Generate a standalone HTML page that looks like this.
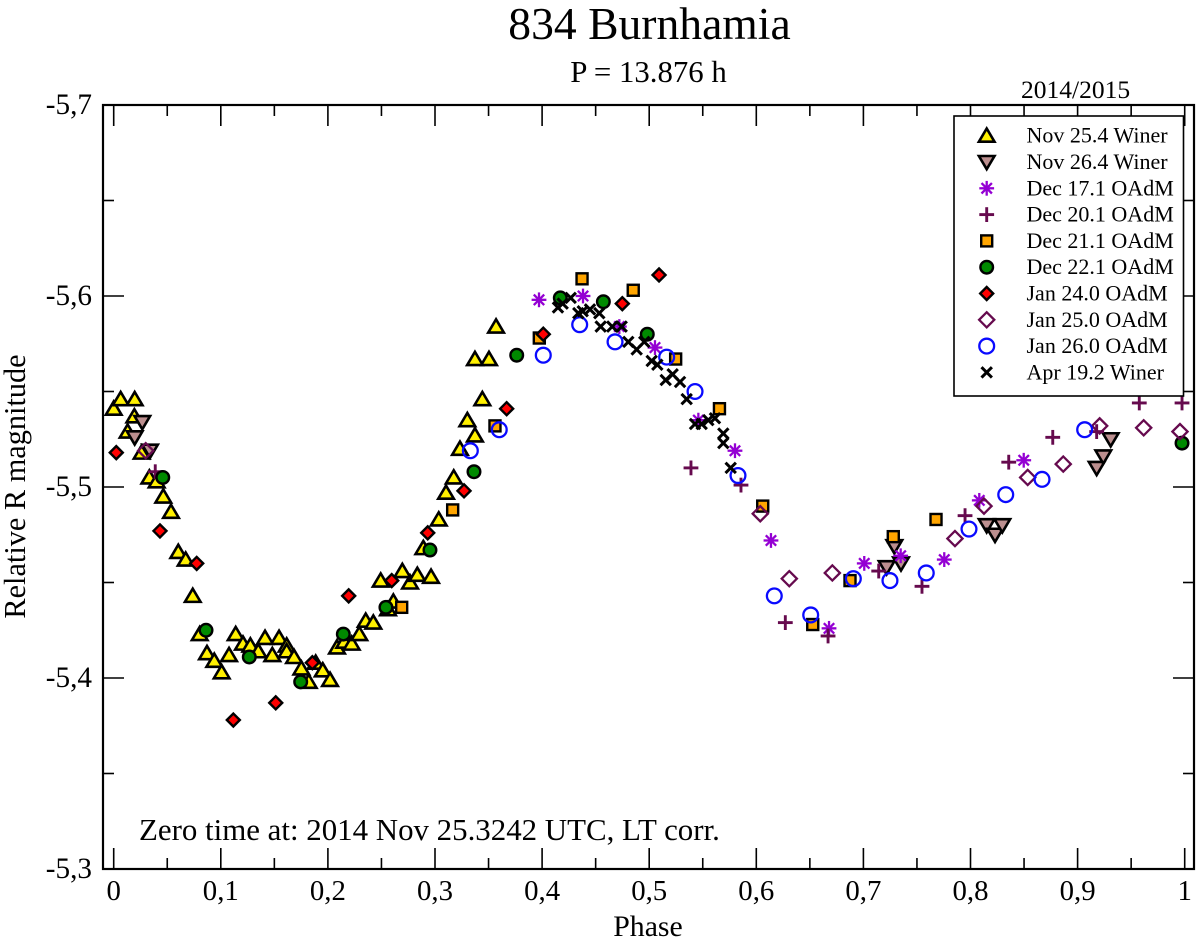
<!DOCTYPE html>
<html lang="en">
<head>
<meta charset="utf-8">
<title>834 Burnhamia</title>
<style>
html,body{margin:0;padding:0;background:#fff;}
svg{display:block;font-family:"Liberation Serif",serif;fill:#000;}
</style>
</head>
<body>
<svg id="chart" xmlns="http://www.w3.org/2000/svg" width="1200" height="945" viewBox="0 0 1200 945">
  <rect x="0" y="0" width="1200" height="945" fill="#fff"/>
  <text x="649.5" y="39" font-size="45.6" text-anchor="middle">834 Burnhamia</text>
  <text x="648.5" y="82" font-size="30.8" text-anchor="middle">P = 13.876 h</text>
  <text x="1021" y="98" font-size="25.5">2014/2015</text>
  <g id="ticks"></g>
  <rect x="103" y="105" width="1091" height="764" fill="none" stroke="#000" stroke-width="2.2"/>
  <g id="marks"></g>
  <g id="tick-labels"></g>
  <text x="648" y="936" font-size="29.8" text-anchor="middle">Phase</text>
  <text transform="translate(25,486.5) rotate(-90)" font-size="30.3" text-anchor="middle">Relative R magnitude</text>
  <text x="139" y="840" font-size="30.9">Zero time at: 2014 Nov 25.3242 UTC, LT corr.</text>
  <g id="legend">
    <rect x="954" y="116" width="229.5" height="280" fill="#fff" stroke="#000" stroke-width="1.6"/>
  </g>
</svg>
<script>
const xTicks = [0, 0.1, 0.2, 0.3, 0.4, 0.5, 0.6, 0.7, 0.8, 0.9, 1];
const xTickLabels = ["0", "0,1", "0,2", "0,3", "0,4", "0,5", "0,6", "0,7", "0,8", "0,9", "1"];
const xMinorTicks = [0.05, 0.15, 0.25, 0.35, 0.45, 0.55, 0.65, 0.75, 0.85, 0.95];
const yTicks = [-5.7, -5.6, -5.5, -5.4, -5.3];
const yTickLabels = ["-5,7", "-5,6", "-5,5", "-5,4", "-5,3"];
const yMinorTicks = [-5.65, -5.55, -5.45, -5.35];

const seriesLabels = ["Nov 25.4 Winer", "Nov 26.4 Winer", "Dec 17.1 OAdM", "Dec 20.1 OAdM", "Dec 21.1 OAdM", "Dec 22.1 OAdM", "Jan 24.0 OAdM", "Jan 25.0 OAdM", "Jan 26.0 OAdM", "Apr 19.2 Winer"];

const nov25 = [[0.000,-5.541],[0.0065,-5.546],[0.0196,-5.546],[0.0193,-5.537],[0.013,-5.529],[0.0261,-5.518],[0.0333,-5.505],[0.0401,-5.503],[0.0463,-5.495],[0.0535,-5.487],[0.0603,-5.466],[0.0672,-5.462],[0.0738,-5.443],[0.0803,-5.423],[0.0871,-5.413],[0.0939,-5.409],[0.1008,-5.403],[0.1077,-5.412],[0.1139,-5.423],[0.1207,-5.418],[0.1276,-5.417],[0.135,-5.414],[0.1413,-5.421],[0.1481,-5.412],[0.1544,-5.421],[0.1615,-5.417],[0.1615,-5.414],[0.1684,-5.411],[0.1752,-5.405],[0.1821,-5.398],[0.1886,-5.408],[0.1952,-5.404],[0.202,-5.399],[0.2085,-5.416],[0.2153,-5.419],[0.2222,-5.418],[0.2293,-5.423],[0.2353,-5.43],[0.2424,-5.429],[0.2493,-5.451],[0.2561,-5.436],[0.2611,-5.44],[0.2695,-5.456],[0.2767,-5.45],[0.2835,-5.454],[0.2891,-5.468],[0.2963,-5.453],[0.3035,-5.483],[0.3103,-5.497],[0.3175,-5.505],[0.3233,-5.52],[0.3302,-5.535],[0.3373,-5.527],[0.3373,-5.567],[0.3442,-5.546],[0.3504,-5.567],[0.357,-5.584]];
const nov26 = [[0.0196,-5.526],[0.0267,-5.534],[0.0339,-5.519],[0.7217,-5.458],[0.7289,-5.469],[0.7351,-5.46],[0.8151,-5.48],[0.8229,-5.475],[0.8297,-5.48],[0.9178,-5.51],[0.924,-5.516],[0.9309,-5.525]];
const dec17 = [[0.3971,-5.598],[0.4382,-5.6],[0.4721,-5.584],[0.5054,-5.573],[0.5459,-5.535],[0.5801,-5.519],[0.6137,-5.472],[0.6679,-5.426],[0.7008,-5.46],[0.7348,-5.464],[0.7755,-5.462],[0.8082,-5.493],[0.8497,-5.514]];
const dec20 = [[0.0388,-5.508],[0.539,-5.51],[0.5857,-5.501],[0.6271,-5.429],[0.667,-5.422],[0.7143,-5.456],[0.7547,-5.448],[0.7949,-5.485],[0.8357,-5.513],[0.8768,-5.526],[0.9178,-5.529],[0.9576,-5.544],[0.9975,-5.544]];
const dec21 = [[0.2689,-5.437],[0.3165,-5.488],[0.356,-5.532],[0.3974,-5.578],[0.4373,-5.609],[0.4851,-5.603],[0.5247,-5.567],[0.5656,-5.541],[0.606,-5.49],[0.6527,-5.428],[0.6875,-5.451],[0.7279,-5.474],[0.7678,-5.483]];
const dec22 = [[0.0458,-5.505],[0.0862,-5.425],[0.1266,-5.411],[0.1746,-5.398],[0.2144,-5.423],[0.2542,-5.437],[0.2953,-5.467],[0.3364,-5.508],[0.3763,-5.569],[0.417,-5.599],[0.4572,-5.597],[0.4982,-5.58],[0.9975,-5.523]];
const jan24 = [[0.0024,-5.518],[0.0432,-5.477],[0.0775,-5.46],[0.1117,-5.378],[0.1513,-5.387],[0.1855,-5.408],[0.2194,-5.443],[0.2596,-5.451],[0.2932,-5.476],[0.3271,-5.498],[0.3669,-5.541],[0.4011,-5.58],[0.4749,-5.596],[0.5092,-5.611]];
const jan25 = [[0.0299,-5.519],[0.6037,-5.486],[0.6308,-5.452],[0.671,-5.455],[0.7855,-5.473],[0.8126,-5.49],[0.8534,-5.505],[0.8866,-5.512],[0.9206,-5.532],[0.9617,-5.531],[0.9956,-5.529]];
const jan26 = [[0.333,-5.519],[0.36,-5.53],[0.4011,-5.569],[0.4351,-5.585],[0.4681,-5.576],[0.5163,-5.568],[0.5428,-5.55],[0.5829,-5.506],[0.6168,-5.443],[0.6508,-5.433],[0.6906,-5.452],[0.7248,-5.451],[0.7587,-5.455],[0.7986,-5.478],[0.8329,-5.496],[0.8668,-5.504],[0.9066,-5.53]];
const apr19 = [[0.4148,-5.594],[0.4192,-5.596],[0.4267,-5.599],[0.4338,-5.591],[0.4379,-5.592],[0.4447,-5.593],[0.4534,-5.591],[0.4547,-5.584],[0.4655,-5.584],[0.4743,-5.584],[0.4805,-5.576],[0.4883,-5.572],[0.4954,-5.576],[0.5023,-5.566],[0.5076,-5.564],[0.5154,-5.556],[0.5219,-5.559],[0.5288,-5.555],[0.535,-5.546],[0.5428,-5.533],[0.549,-5.533],[0.5552,-5.535],[0.5614,-5.536],[0.5692,-5.528],[0.5692,-5.523],[0.5761,-5.51]];

const allSeries = [nov25, nov26, dec17, dec20, dec21, dec22, jan24, jan25, jan26, apr19];
const markerKinds = ["up", "down", "star", "plus", "square", "circle", "diamond", "openDiamond", "openCircle", "cross"];

const SVGNS = "http://www.w3.org/2000/svg";
function xScale(phase) { return 113.7 + 1071 * phase; }
function yScale(mag) { return 869 + (mag + 5.3) * 1910; }

function shape(tag, attrs) {
  const el = document.createElementNS(SVGNS, tag);
  for (const k in attrs) el.setAttribute(k, attrs[k]);
  return el;
}
function segment(parent, x1, y1, x2, y2, width, color) {
  const el = shape("line", {x1: x1, y1: y1, x2: x2, y2: y2, stroke: color, "stroke-width": width});
  parent.appendChild(el);
  return el;
}
function pts(list) { return list.map(function (p) { return p[0].toFixed(2) + "," + p[1].toFixed(2); }).join(" "); }

function drawMarker(parent, kind, x, y) {
  const g = shape("g", {});
  const ink = "#000";
  if (kind === "up") {
    g.appendChild(shape("polygon", {points: pts([[x - 7.8, y + 6], [x + 7.8, y + 6], [x, y - 7.2]]), fill: "#fff000", stroke: ink, "stroke-width": 2.6}));
  } else if (kind === "down") {
    g.appendChild(shape("polygon", {points: pts([[x - 7.8, y - 6], [x + 7.8, y - 6], [x, y + 7.2]]), fill: "#bc8f8f", stroke: ink, "stroke-width": 2.6}));
  } else if (kind === "star") {
    const c = "#9400d3", r = 7.4, d = 5.2;
    segment(g, x - r, y, x + r, y, 2.3, c);
    segment(g, x, y - r, x, y + r, 2.3, c);
    segment(g, x - d, y - d, x + d, y + d, 2.3, c);
    segment(g, x - d, y + d, x + d, y - d, 2.3, c);
  } else if (kind === "plus") {
    const c = "#660a4e", r = 7.4;
    segment(g, x - r, y, x + r, y, 2.9, c);
    segment(g, x, y - r, x, y + r, 2.9, c);
  } else if (kind === "square") {
    g.appendChild(shape("rect", {x: x - 5.5, y: y - 5.5, width: 11, height: 11, fill: "#ffa500", stroke: ink, "stroke-width": 2.4}));
  } else if (kind === "circle") {
    g.appendChild(shape("circle", {cx: x, cy: y, r: 6.3, fill: "#008a00", stroke: ink, "stroke-width": 2.4}));
  } else if (kind === "diamond") {
    g.appendChild(shape("polygon", {points: pts([[x - 6.5, y], [x, y - 6.5], [x + 6.5, y], [x, y + 6.5]]), fill: "#ff0000", stroke: ink, "stroke-width": 2.4}));
  } else if (kind === "openDiamond") {
    g.appendChild(shape("polygon", {points: pts([[x - 7.6, y], [x, y - 7.6], [x + 7.6, y], [x, y + 7.6]]), fill: "#fff", "fill-opacity": 0, stroke: "#660a4e", "stroke-width": 2.3}));
  } else if (kind === "openCircle") {
    g.appendChild(shape("circle", {cx: x, cy: y, r: 7.4, fill: "none", stroke: "#0a0aff", "stroke-width": 2.3}));
  } else if (kind === "cross") {
    const r = 5.2;
    segment(g, x - r, y - r, x + r, y + r, 3, ink);
    segment(g, x - r, y + r, x + r, y - r, 3, ink);
  }
  parent.appendChild(g);
  return g;
}

const ticksG = document.getElementById("ticks");
const labelsG = document.getElementById("tick-labels");

xTicks.forEach(function (v, i) {
  const px = xScale(v);
  const bottom = segment(ticksG, px, 869, px, 848, 1.6, "#000");
  
  
  const top = segment(ticksG, px, 105, px, 126, 1.6, "#000");
  
  
  const t = shape("text", {x: px, y: 900, "font-size": 28.8, "text-anchor": "middle"});
  t.textContent = xTickLabels[i];
  
  
  labelsG.appendChild(t);
});
xMinorTicks.forEach(function (v) {
  const px = xScale(v);
  const bottom = segment(ticksG, px, 869, px, 858, 1.6, "#000");
  
  
  const top = segment(ticksG, px, 105, px, 116, 1.6, "#000");
  
  
});
yTicks.forEach(function (v, i) {
  const py = yScale(v);
  const left = segment(ticksG, 103, py, 124, py, 1.6, "#000");
  
  
  const right = segment(ticksG, 1194, py, 1173, py, 1.6, "#000");
  
  
  const t = shape("text", {x: 92, y: py + 9, "font-size": 29.2, "text-anchor": "end"});
  t.textContent = yTickLabels[i];
  
  
  labelsG.appendChild(t);
});
yMinorTicks.forEach(function (v) {
  const py = yScale(v);
  const left = segment(ticksG, 103, py, 114, py, 1.6, "#000");
  
  
  const right = segment(ticksG, 1194, py, 1183, py, 1.6, "#000");
  
  
});

const marksG = document.getElementById("marks");
allSeries.forEach(function (series, s) {
  const g = shape("g", {});
  
  
  series.forEach(function (d) {
    const m = drawMarker(g, markerKinds[s], xScale(d[0]), yScale(d[1]));
    
    
  });
  marksG.appendChild(g);
});

const legendG = document.getElementById("legend");
seriesLabels.forEach(function (label, i) {
  const row = shape("g", {});
  
  
  const rowY = 135.7 + i * 26.3;
  const m = drawMarker(row, markerKinds[i], 986.7, rowY);
  
  
  const t = shape("text", {x: 1026.5, y: rowY + 7, "font-size": 22});
  t.textContent = label;
  
  
  row.appendChild(t);
  legendG.appendChild(row);
});
</script>
</body>
</html>
